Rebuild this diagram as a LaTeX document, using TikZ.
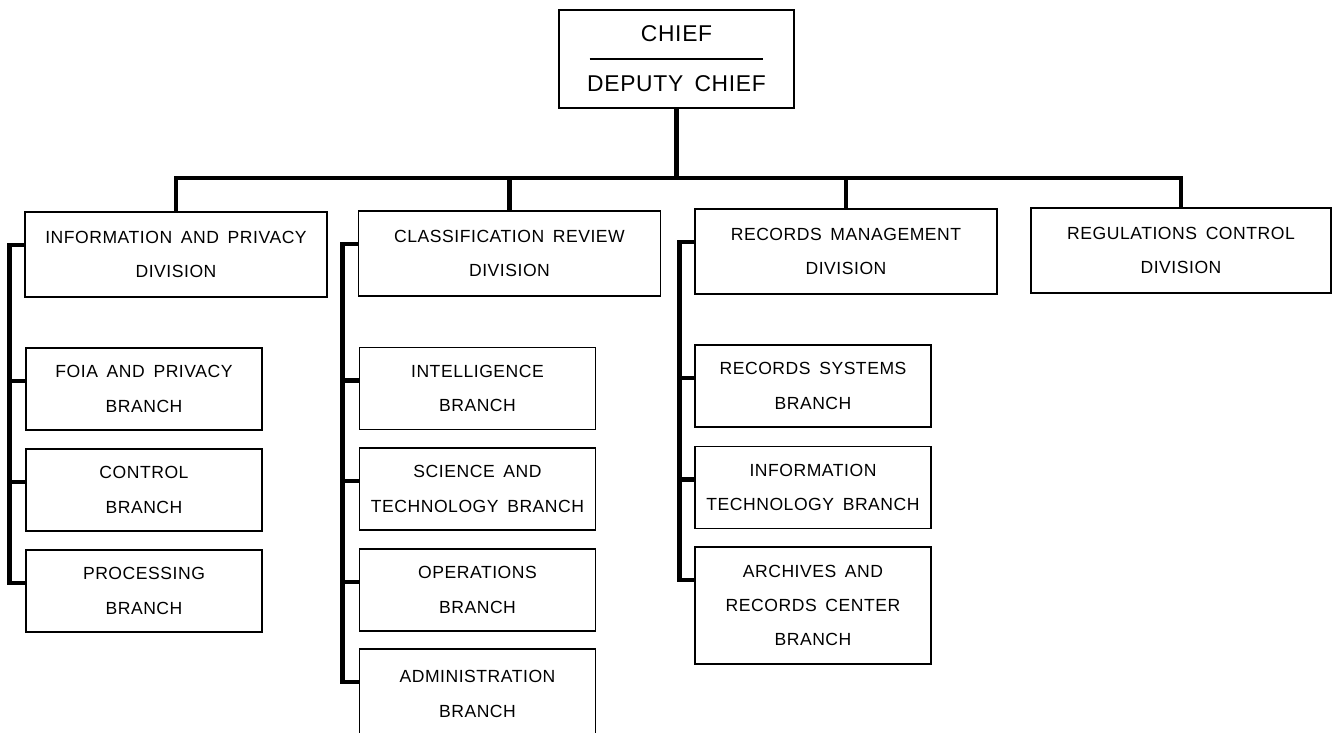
\documentclass[tikz,border=0pt]{standalone}
\usepackage{fontspec}
\setmainfont{Liberation Sans}[LetterSpace=3,WordSpace=1.6]
\begin{document}
\begin{tikzpicture}[x=0.02cm,y=-0.02cm,
  unit/.style={draw,line width=1.1pt,inner sep=0pt,align=center,font=\fontsize{10}{19.5}\selectfont},
  divbox/.style={unit,minimum width=6.04cm,minimum height=1.7cm},
  brbox/.style={unit,minimum width=4.72cm,minimum height=1.64cm},
  link/.style={line width=2.8pt}]
\useasboundingbox (0,0) rectangle (1333,733);
\node[unit,minimum width=4.7cm,minimum height=1.96cm,font=\fontsize{13}{14.17}\selectfont] (chief) at (676.5,59)
  {CHIEF\\\rule[4.08pt]{3.48cm}{0.8pt}\\DEPUTY CHIEF};
\node[divbox] (info) at (176,254.5) {INFORMATION AND PRIVACY\\DIVISION};
\node[divbox] (clas) at (509.5,253.5) {CLASSIFICATION REVIEW\\DIVISION};
\node[divbox] (recs) at (846,251.5) {RECORDS MANAGEMENT\\DIVISION};
\node[divbox,minimum width=6cm] (regs) at (1181,250.5) {REGULATIONS CONTROL\\DIVISION};
\node[brbox] (foia) at (144,389) {FOIA AND PRIVACY\\BRANCH};
\node[brbox] (ctrl) at (144,490) {CONTROL\\BRANCH};
\node[brbox] (proc) at (144,591) {PROCESSING\\BRANCH};
\node[brbox] (intl) at (477.5,388.5) {INTELLIGENCE\\BRANCH};
\node[brbox] (scte) at (477.5,489) {SCIENCE AND\\TECHNOLOGY BRANCH};
\node[brbox] (oper) at (477.5,590) {OPERATIONS\\BRANCH};
\node[brbox,minimum height=1.8cm] (admn) at (477.5,694) {ADMINISTRATION\\BRANCH};
\node[brbox] (rsys) at (813,386) {RECORDS SYSTEMS\\BRANCH};
\node[brbox] (itec) at (813,487.5) {INFORMATION\\TECHNOLOGY BRANCH};
\node[brbox,minimum height=2.34cm] (arch) at (813,605.5) {ARCHIVES AND\\RECORDS CENTER\\BRANCH};
\coordinate (bus) at (chief.south |- 0,178);
\draw[link] (chief) -- (bus);
\foreach \d in {info,clas,recs,regs}
  \draw[link] (\d) |- (bus);
\draw[link] ([yshift=-0.68cm]info.north west) -- ++(-15,0) |- ([yshift=-0.68cm]proc.north west);
\draw[link] ([yshift=-0.68cm]clas.north west) -- ++(-15,0) |- ([yshift=-0.68cm]admn.north west);
\draw[link] ([yshift=-0.68cm]recs.north west) -- ++(-15,0) |- ([yshift=-0.68cm]arch.north west);
\foreach \b in {foia,ctrl,intl,scte,oper,rsys,itec}
  \draw[link] ([yshift=-0.68cm]\b.north west) -- ++(-16,0);
\end{tikzpicture}
\end{document}
